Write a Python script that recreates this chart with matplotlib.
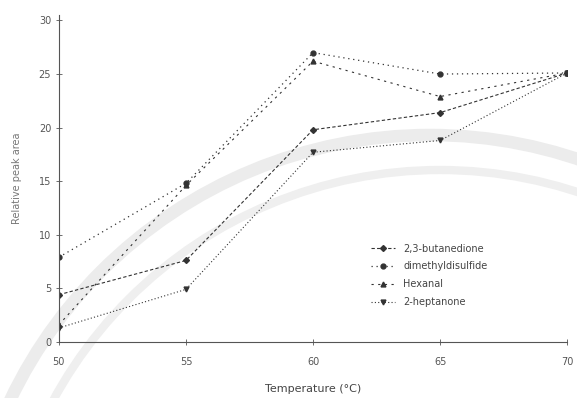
import matplotlib.pyplot as plt
from matplotlib.patches import Circle

temps = [50, 55, 60, 65, 70]
butanedione = [4.4, 7.6, 19.8, 21.4, 25.1]
dimethyl = [7.9, 14.8, 27.0, 25.0, 25.1]
hexanal = [1.6, 14.6, 26.2, 22.9, 25.1]
heptanone = [1.3, 4.9, 17.7, 18.8, 25.1]
labels = ['2,3-butanedione', 'dimethyldisulfide', 'Hexanal', '2-heptanone']

fig = plt.figure(figsize=(5.77, 3.98), dpi=100)

# faint watermark bands from the scanned page
bg = fig.add_axes([0, 0, 1, 1], zorder=-1)
bg.set_xlim(0, 577)
bg.set_ylim(398, 0)
bg.axis('off')
bg.add_patch(Circle((430, 600), 465, fill=False, ec='#ececec', lw=9))
bg.add_patch(Circle((440, 610), 440, fill=False, ec='#efefef', lw=6))

ax = fig.add_axes([0.102, 0.141, 0.881, 0.821])
ax.patch.set_alpha(0)

c = '#333333'
ax.plot(temps, butanedione, ls=(0, (3, 2)), marker='D', ms=3, color=c, lw=0.8, label=labels[0])
ax.plot(temps, dimethyl, ls=(0, (1, 3)), marker='o', ms=3.5, color=c, lw=0.9, label=labels[1])
ax.plot(temps, hexanal, ls=(0, (2, 4)), marker='^', ms=3.5, color=c, lw=0.8, label=labels[2])
ax.plot(temps, heptanone, ls=(0, (1, 2)), marker='v', ms=3.5, color=c, lw=0.8, label=labels[3])

ax.set_xlim(50, 70)
ax.set_ylim(0, 30.5)
ax.set_xticks(temps)
ax.set_yticks([0, 5, 10, 15, 20, 25, 30])
ax.tick_params(labelsize=7, colors='#555555', direction='inout', length=4, width=0.6)
ax.tick_params(axis='x', pad=9)
ax.spines['top'].set_visible(False)
ax.spines['right'].set_visible(False)
for s in ['left', 'bottom']:
    ax.spines[s].set_color('#555555')
    ax.spines[s].set_linewidth(0.8)
    ax.spines[s].set_linestyle((0, (2, 1)))

ax.set_xlabel('Temperature (°C)', fontsize=8, color='#444444', labelpad=12)
ax.set_ylabel('Relative peak area', fontsize=7, color='#777777', labelpad=12)

leg = ax.legend(loc='lower right', bbox_to_anchor=(0.86, 0.08), frameon=False,
                fontsize=7, handlelength=2.5, labelspacing=0.8)
for t in leg.get_texts():
    t.set_color('#444444')

fig.savefig('out.png', dpi=100)
